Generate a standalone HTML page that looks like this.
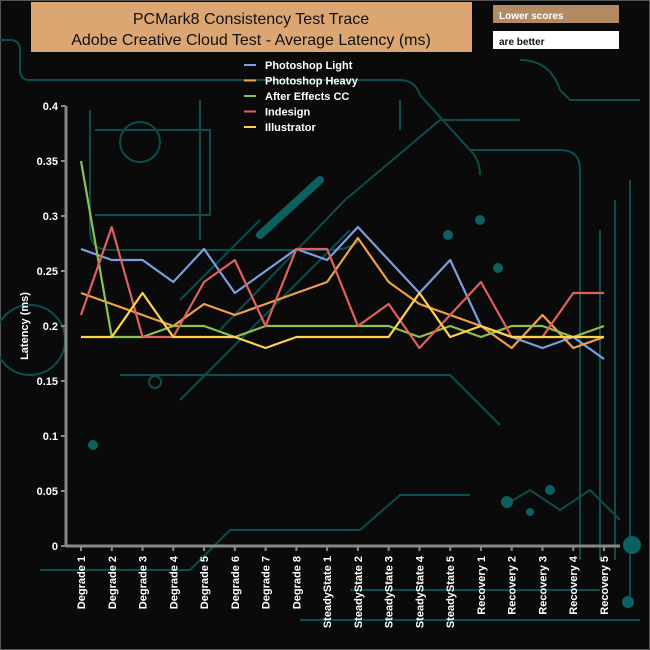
<!DOCTYPE html>
<html><head><meta charset="utf-8"><style>
html,body{margin:0;padding:0;background:#000;}
svg{display:block;}
text{font-family:"Liberation Sans",sans-serif;}
</style></head><body>
<svg id="chart" width="650" height="650" xmlns="http://www.w3.org/2000/svg">
<rect x="0" y="0" width="650" height="650" fill="#0a0a0a" stroke="#555" stroke-width="2"/>
<g fill="none" stroke="#0d4d4d" stroke-width="2">
<path d="M0 40 H10 Q20 40 20 50 V70 Q20 80 30 80 H400 Q415 80 420 95 L470 150 H560 Q580 150 580 170 V560"/>
<path d="M90 110 V230 Q90 250 110 250 H330 Q350 250 360 240"/>
<path d="M95 130 H210 V215 H95"/>
<path d="M200 100 V240"/>
<path d="M180 300 L260 220"/><path d="M220 330 L345 200 L440 120 H520"/>
<path d="M120 375 H450 L500 425"/>
<path d="M180 400 L350 230"/>
<path d="M40 570 H190 L230 530 H360 L400 495 H470"/>
<path d="M350 590 H600"/><path d="M300 620 H640"/>
<path d="M520 60 Q550 60 560 90 L570 100 H640"/>
<path d="M600 230 V560"/><path d="M615 200 V560"/><path d="M630 180 V600"/>
<path d="M400 100 V130 M470 150 Q480 160 480 175"/>
<circle cx="30" cy="340" r="35"/><circle cx="140" cy="142" r="20"/><circle cx="155" cy="382" r="6"/>
<path d="M505 505 L530 490 L560 510 L590 490 L620 520"/>
</g>
<g fill="#0d6060">
<circle cx="93" cy="445" r="5"/><circle cx="480" cy="220" r="5"/><circle cx="448" cy="235" r="5"/><circle cx="498" cy="268" r="5"/>
<circle cx="507" cy="502" r="6"/><circle cx="550" cy="490" r="5"/><circle cx="530" cy="512" r="4"/><circle cx="632" cy="545" r="9"/><circle cx="628" cy="602" r="6"/>
<path d="M260 235 L320 180" stroke="#0d6060" stroke-width="8" stroke-linecap="round"/>
</g>
<rect x="31" y="2" width="441" height="50" fill="#dca672"/>
<text x="251" y="24" text-anchor="middle" font-size="16" fill="#111">PCMark8 Consistency Test Trace</text>
<text x="251" y="45" text-anchor="middle" font-size="16" fill="#111">Adobe Creative Cloud Test -  Average Latency (ms)</text>
<rect x="493" y="5" width="126" height="18" fill="#b28b62"/>
<text x="499" y="19" font-size="10" font-weight="bold" fill="#fff">Lower scores</text>
<rect x="493" y="31" width="126" height="18" fill="#fff"/>
<text x="499" y="45" font-size="10" font-weight="bold" fill="#111">are better</text>
<g id="axes"></g>
<g id="series"></g>
<g id="legend"></g>
</svg>
<script>
const categories=["Degrade 1","Degrade 2","Degrade 3","Degrade 4","Degrade 5","Degrade 6","Degrade 7","Degrade 8","SteadyState 1","SteadyState 2","SteadyState 3","SteadyState 4","SteadyState 5","Recovery 1","Recovery 2","Recovery 3","Recovery 4","Recovery 5"];
const seriesNames=["Photoshop Light"," Photoshop Heavy","After Effects CC","Indesign","Illustrator"];
const photoshopLight=[0.27,0.26,0.26,0.24,0.27,0.23,0.25,0.27,0.26,0.29,0.26,0.23,0.26,0.20,0.19,0.18,0.19,0.17];
const photoshopHeavy=[0.23,0.22,0.21,0.20,0.22,0.21,0.22,0.23,0.24,0.28,0.24,0.22,0.21,0.20,0.18,0.21,0.18,0.19];
const afterEffects=[0.35,0.19,0.19,0.20,0.20,0.19,0.20,0.20,0.20,0.20,0.20,0.19,0.20,0.19,0.20,0.20,0.19,0.20];
const indesign=[0.21,0.29,0.19,0.19,0.24,0.26,0.20,0.27,0.27,0.20,0.22,0.18,0.21,0.24,0.19,0.19,0.23,0.23];
const illustrator=[0.19,0.19,0.23,0.19,0.19,0.19,0.18,0.19,0.19,0.19,0.19,0.23,0.19,0.20,0.19,0.19,0.19,0.19];
const yTicks=[0,0.05,0.1,0.15,0.2,0.25,0.3,0.35,0.4];
const yTickLabels=["0","0.05","0.1","0.15","0.2","0.25","0.3","0.35","0.4"];
const allSeries=[photoshopLight,photoshopHeavy,afterEffects,indesign,illustrator];
const colors=["#7b9ee0","#f0a04b","#8cc152","#e06060","#ffd24d"];
const NS="http://www.w3.org/2000/svg";
const x0=66,x1=620,yBase=546,yTop=106;
function xs(i){return 81+i*(604-81)/(categories.length-1);}
function ys(v){return yBase-(v/0.4)*(yBase-yTop);}
function mk(tag,attrs,parent){const e=document.createElementNS(NS,tag);for(const k in attrs)e.setAttribute(k,attrs[k]);parent.appendChild(e);return e;}
const axes=document.getElementById('axes');
let a=mk('line',{x1:x0,y1:yTop,x2:x0,y2:yBase,stroke:'#888','stroke-width':3},axes);


a=mk('line',{x1:x0,y1:yBase,x2:x1,y2:yBase,stroke:'#888','stroke-width':3},axes);


yTicks.forEach((v,i)=>{
  const t=mk('line',{x1:x0-5,y1:ys(v),x2:x0,y2:ys(v),stroke:'#888','stroke-width':2},axes);
  
  
  const l=mk('text',{x:x0-8,y:ys(v)+4,'text-anchor':'end','font-size':11,'font-weight':'bold',fill:'#fff'},axes);
  l.textContent=yTickLabels[i];
  
  
});
categories.forEach((c,i)=>{
  const t=mk('line',{x1:xs(i),y1:yBase,x2:xs(i),y2:yBase+5,stroke:'#888','stroke-width':2},axes);
  
  
  const l=mk('text',{x:0,y:0,'text-anchor':'end','font-size':11,'font-weight':'bold',fill:'#fff',transform:`translate(${xs(i)+4},${yBase+10}) rotate(-90)`},axes);
  l.textContent=c;
  
  
});
const yt=mk('text',{x:0,y:0,'text-anchor':'middle','font-size':11,'font-weight':'bold',fill:'#fff',transform:'translate(28,326) rotate(-90)'},axes);
yt.textContent='Latency (ms)';


const sg=document.getElementById('series');
allSeries.forEach((s,k)=>{
  const p=mk('polyline',{points:s.map((v,i)=>xs(i)+','+ys(v)).join(' '),fill:'none',stroke:colors[k],'stroke-width':2.2,'stroke-linejoin':'round'},sg);
  
  
});
const lg=document.getElementById('legend');
seriesNames.forEach((n,k)=>{
  const y=65+k*15.5;
  const ln=mk('line',{x1:244,y1:y,x2:256,y2:y,stroke:colors[k],'stroke-width':2},lg);
  
  
  const t=mk('text',{x:265,y:y+4,'font-size':11,'font-weight':'bold',fill:'#fff','xml:space':'preserve'},lg);
  t.textContent=n;
  
  
});
</script>
</body></html>
